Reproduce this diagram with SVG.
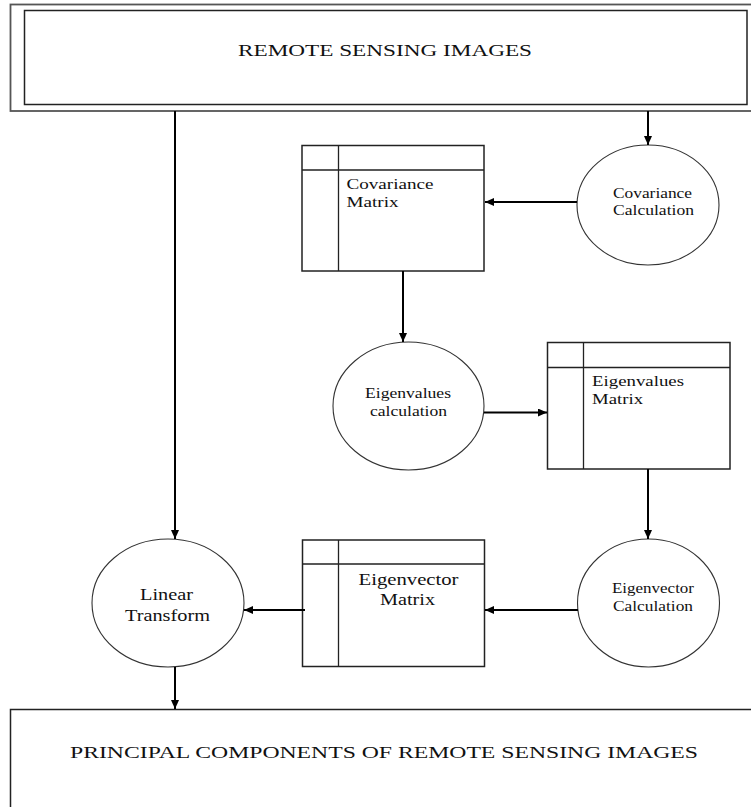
<svg xmlns="http://www.w3.org/2000/svg" width="751" height="807" viewBox="0 0 751 807">
<defs>
<marker id="ah" markerWidth="10" markerHeight="10" refX="9" refY="4" orient="auto" markerUnits="userSpaceOnUse">
<path d="M0,0 L9,4 L0,8 Z" fill="#000"/>
</marker>
<style>
.box{fill:#fff;stroke:#222;stroke-width:1.5}
.outer{fill:none;stroke:#555;stroke-width:1.8}
.ell{fill:#fff;stroke:#333;stroke-width:1.1}
.div{stroke:#222;stroke-width:1.3;fill:none}
.t{font-family:"Liberation Serif","Times New Roman",serif;fill:#111}
.conn line{stroke:#000;stroke-width:2;marker-end:url(#ah)}
</style>
</defs>
<rect width="751" height="807" fill="#fff"/>

<g id="remote-sensing-images">
<rect class="outer" x="10.5" y="4.5" width="745" height="106.5"/>
<rect class="box" x="24.5" y="10.5" width="722.5" height="94"/>
<text class="t" x="238" y="56" font-size="16" textLength="294" lengthAdjust="spacingAndGlyphs">REMOTE SENSING IMAGES</text>
</g>

<g id="covariance-calculation">
<ellipse class="ell" cx="648" cy="205" rx="71" ry="60"/>
<text class="t" x="613" y="197.5" font-size="14" textLength="79" lengthAdjust="spacingAndGlyphs">Covariance</text>
<text class="t" x="613" y="215" font-size="14" textLength="81" lengthAdjust="spacingAndGlyphs">Calculation</text>
</g>

<g id="covariance-matrix">
<rect class="box" x="302" y="145.5" width="182" height="125.5"/>
<path class="div" d="M338.5,145.5 V271 M302,170 H484"/>
<text class="t" x="346.5" y="188.5" font-size="15" textLength="87" lengthAdjust="spacingAndGlyphs">Covariance</text>
<text class="t" x="346.5" y="206.5" font-size="15" textLength="52" lengthAdjust="spacingAndGlyphs">Matrix</text>
</g>

<g id="eigenvalues-calculation">
<ellipse class="ell" cx="408.5" cy="406" rx="75.5" ry="64"/>
<text class="t" x="365" y="398" font-size="14" textLength="86" lengthAdjust="spacingAndGlyphs">Eigenvalues</text>
<text class="t" x="370" y="416" font-size="14" textLength="77" lengthAdjust="spacingAndGlyphs">calculation</text>
</g>

<g id="eigenvalues-matrix">
<rect class="box" x="547.5" y="342.5" width="182.5" height="126.5"/>
<path class="div" d="M583.5,342.5 V469 M547.5,367.5 H730"/>
<text class="t" x="592" y="385.5" font-size="15" textLength="92" lengthAdjust="spacingAndGlyphs">Eigenvalues</text>
<text class="t" x="592" y="404" font-size="15" textLength="51" lengthAdjust="spacingAndGlyphs">Matrix</text>
</g>

<g id="eigenvector-calculation">
<ellipse class="ell" cx="648.5" cy="603" rx="71" ry="64"/>
<text class="t" x="612" y="593" font-size="14" textLength="82" lengthAdjust="spacingAndGlyphs">Eigenvector</text>
<text class="t" x="613" y="611" font-size="14" textLength="80" lengthAdjust="spacingAndGlyphs">Calculation</text>
</g>

<g id="eigenvector-matrix">
<rect class="box" x="302.5" y="540" width="182" height="126.5"/>
<path class="div" d="M338.5,540 V666.5 M302.5,564 H484.5"/>
<text class="t" x="358.5" y="585" font-size="16" textLength="100" lengthAdjust="spacingAndGlyphs">Eigenvector</text>
<text class="t" x="380" y="605" font-size="16" textLength="55" lengthAdjust="spacingAndGlyphs">Matrix</text>
</g>

<g id="linear-transform">
<ellipse class="ell" cx="168" cy="603" rx="76" ry="64"/>
<text class="t" x="140" y="600" font-size="17" textLength="53" lengthAdjust="spacingAndGlyphs">Linear</text>
<text class="t" x="125" y="620.5" font-size="17" textLength="85" lengthAdjust="spacingAndGlyphs">Transform</text>
</g>

<g id="principal-components">
<rect class="box" x="10.5" y="709.5" width="745" height="110"/>
<text class="t" x="70" y="758" font-size="16" textLength="628" lengthAdjust="spacingAndGlyphs">PRINCIPAL COMPONENTS OF REMOTE SENSING IMAGES</text>
</g>

<g id="connectors" class="conn">
<line x1="175" y1="111" x2="175" y2="539"/>
<line x1="648" y1="111" x2="648" y2="145"/>
<line x1="577" y1="202" x2="485" y2="202"/>
<line x1="403" y1="271" x2="403" y2="342"/>
<line x1="484" y1="412.5" x2="547" y2="412.5"/>
<line x1="648" y1="469" x2="648" y2="539"/>
<line x1="578" y1="610" x2="485" y2="610"/>
<line x1="305" y1="610" x2="244" y2="610"/>
<line x1="175" y1="667" x2="175" y2="709"/>
</g>
</svg>
